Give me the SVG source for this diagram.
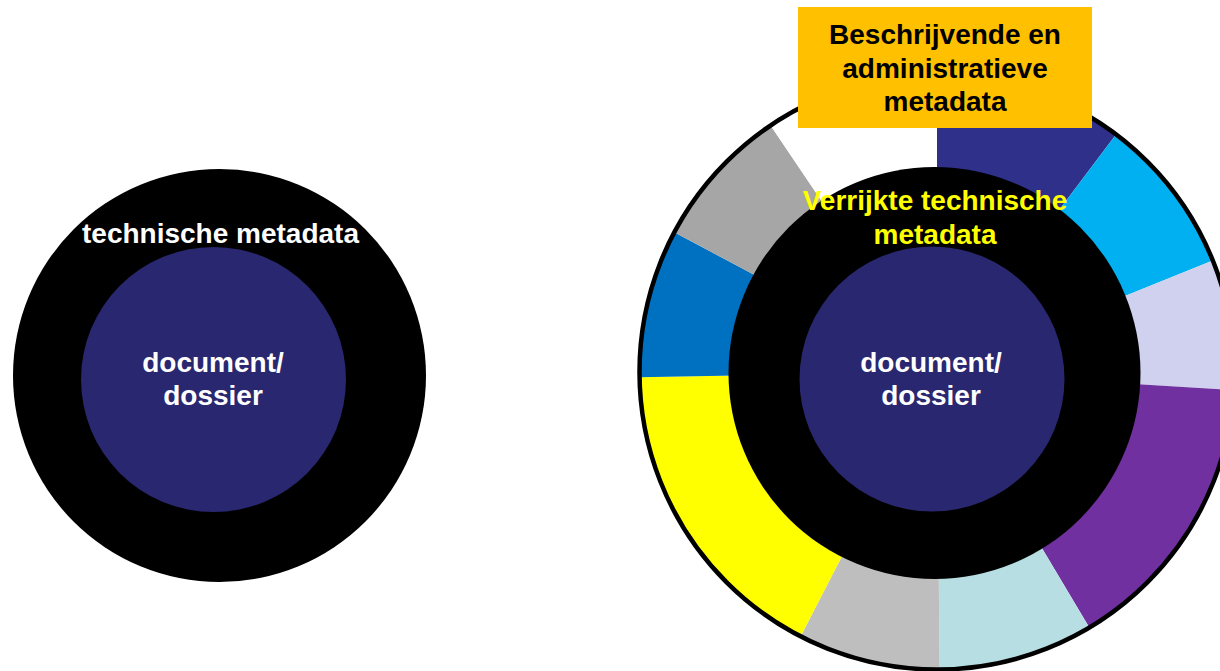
<svg xmlns="http://www.w3.org/2000/svg" width="1220" height="671" viewBox="0 0 1220 671">
  <style>
    .t { font-family: "Liberation Sans", Arial, sans-serif; font-weight: bold; font-size: 28px; text-anchor: middle; }
    .w { fill: #FFFFFF; }
    .y { fill: #FFFF00; }
    .k { fill: #000000; }
    .core { fill: #292770; }
    .ring { fill: #000000; }
  </style>
  <rect width="1220" height="671" fill="#FFFFFF"/>

  <g id="left-diagram">
    <circle class="ring" cx="219.5" cy="375.5" r="206.5"/>
    <circle class="core" cx="213.5" cy="379.5" r="132.5"/>
    <text class="t w" x="220.5" y="243">technische metadata</text>
    <text class="t w" x="213" y="372">document/</text>
    <text class="t w" x="213" y="405">dossier</text>
  </g>

  <g id="right-pie">
    <path d="M937,372 L937,74.5 A297.5,297.5 0 0 1 1116,134.4 Z" fill="#2E3089"/>
    <path d="M937,372 L1116,134.4 A297.5,297.5 0 0 1 1212.8,260.6 Z" fill="#00B0F0"/>
    <path d="M937,372 L1212.8,260.6 A297.5,297.5 0 0 1 1233.9,390.2 Z" fill="#D0D0EF"/>
    <path d="M937,372 L1233.9,390.2 A297.5,297.5 0 0 1 1089.3,627.6 Z" fill="#7030A0"/>
    <path d="M937,372 L1089.3,627.6 A297.5,297.5 0 0 1 939.6,669.5 Z" fill="#B7DFE3"/>
    <path d="M937,372 L939.6,669.5 A297.5,297.5 0 0 1 800.6,636.4 Z" fill="#BEBEBE"/>
    <path d="M937,372 L800.6,636.4 A297.5,297.5 0 0 1 639.5,377.2 Z" fill="#FFFF00"/>
    <path d="M937,372 L639.5,377.2 A297.5,297.5 0 0 1 674.3,232.3 Z" fill="#0070C0"/>
    <path d="M937,372 L674.3,232.3 A297.5,297.5 0 0 1 770.6,125.4 Z" fill="#A6A6A6"/>
    <path d="M937,372 L770.6,125.4 A297.5,297.5 0 0 1 937,74.5 Z" fill="#FFFFFF"/>
    <circle cx="937" cy="372" r="297.5" fill="none" stroke="#000000" stroke-width="4.5"/>
  </g>

  <g id="right-core">
    <circle class="ring" cx="934.5" cy="373" r="206"/>
    <circle class="core" cx="932" cy="379" r="132.5"/>
    <text class="t y" x="935" y="210">Verrijkte technische</text>
    <text class="t y" x="935" y="243.5">metadata</text>
    <text class="t w" x="931" y="372">document/</text>
    <text class="t w" x="931" y="405">dossier</text>
  </g>

  <g id="label-box">
    <rect x="798" y="7" width="294" height="121" fill="#FFC000"/>
    <text class="t k" x="945" y="43.5">Beschrijvende en</text>
    <text class="t k" x="945" y="77.5">administratieve</text>
    <text class="t k" x="945" y="110.5">metadata</text>
  </g>

  <g id="connectors"/>
</svg>
